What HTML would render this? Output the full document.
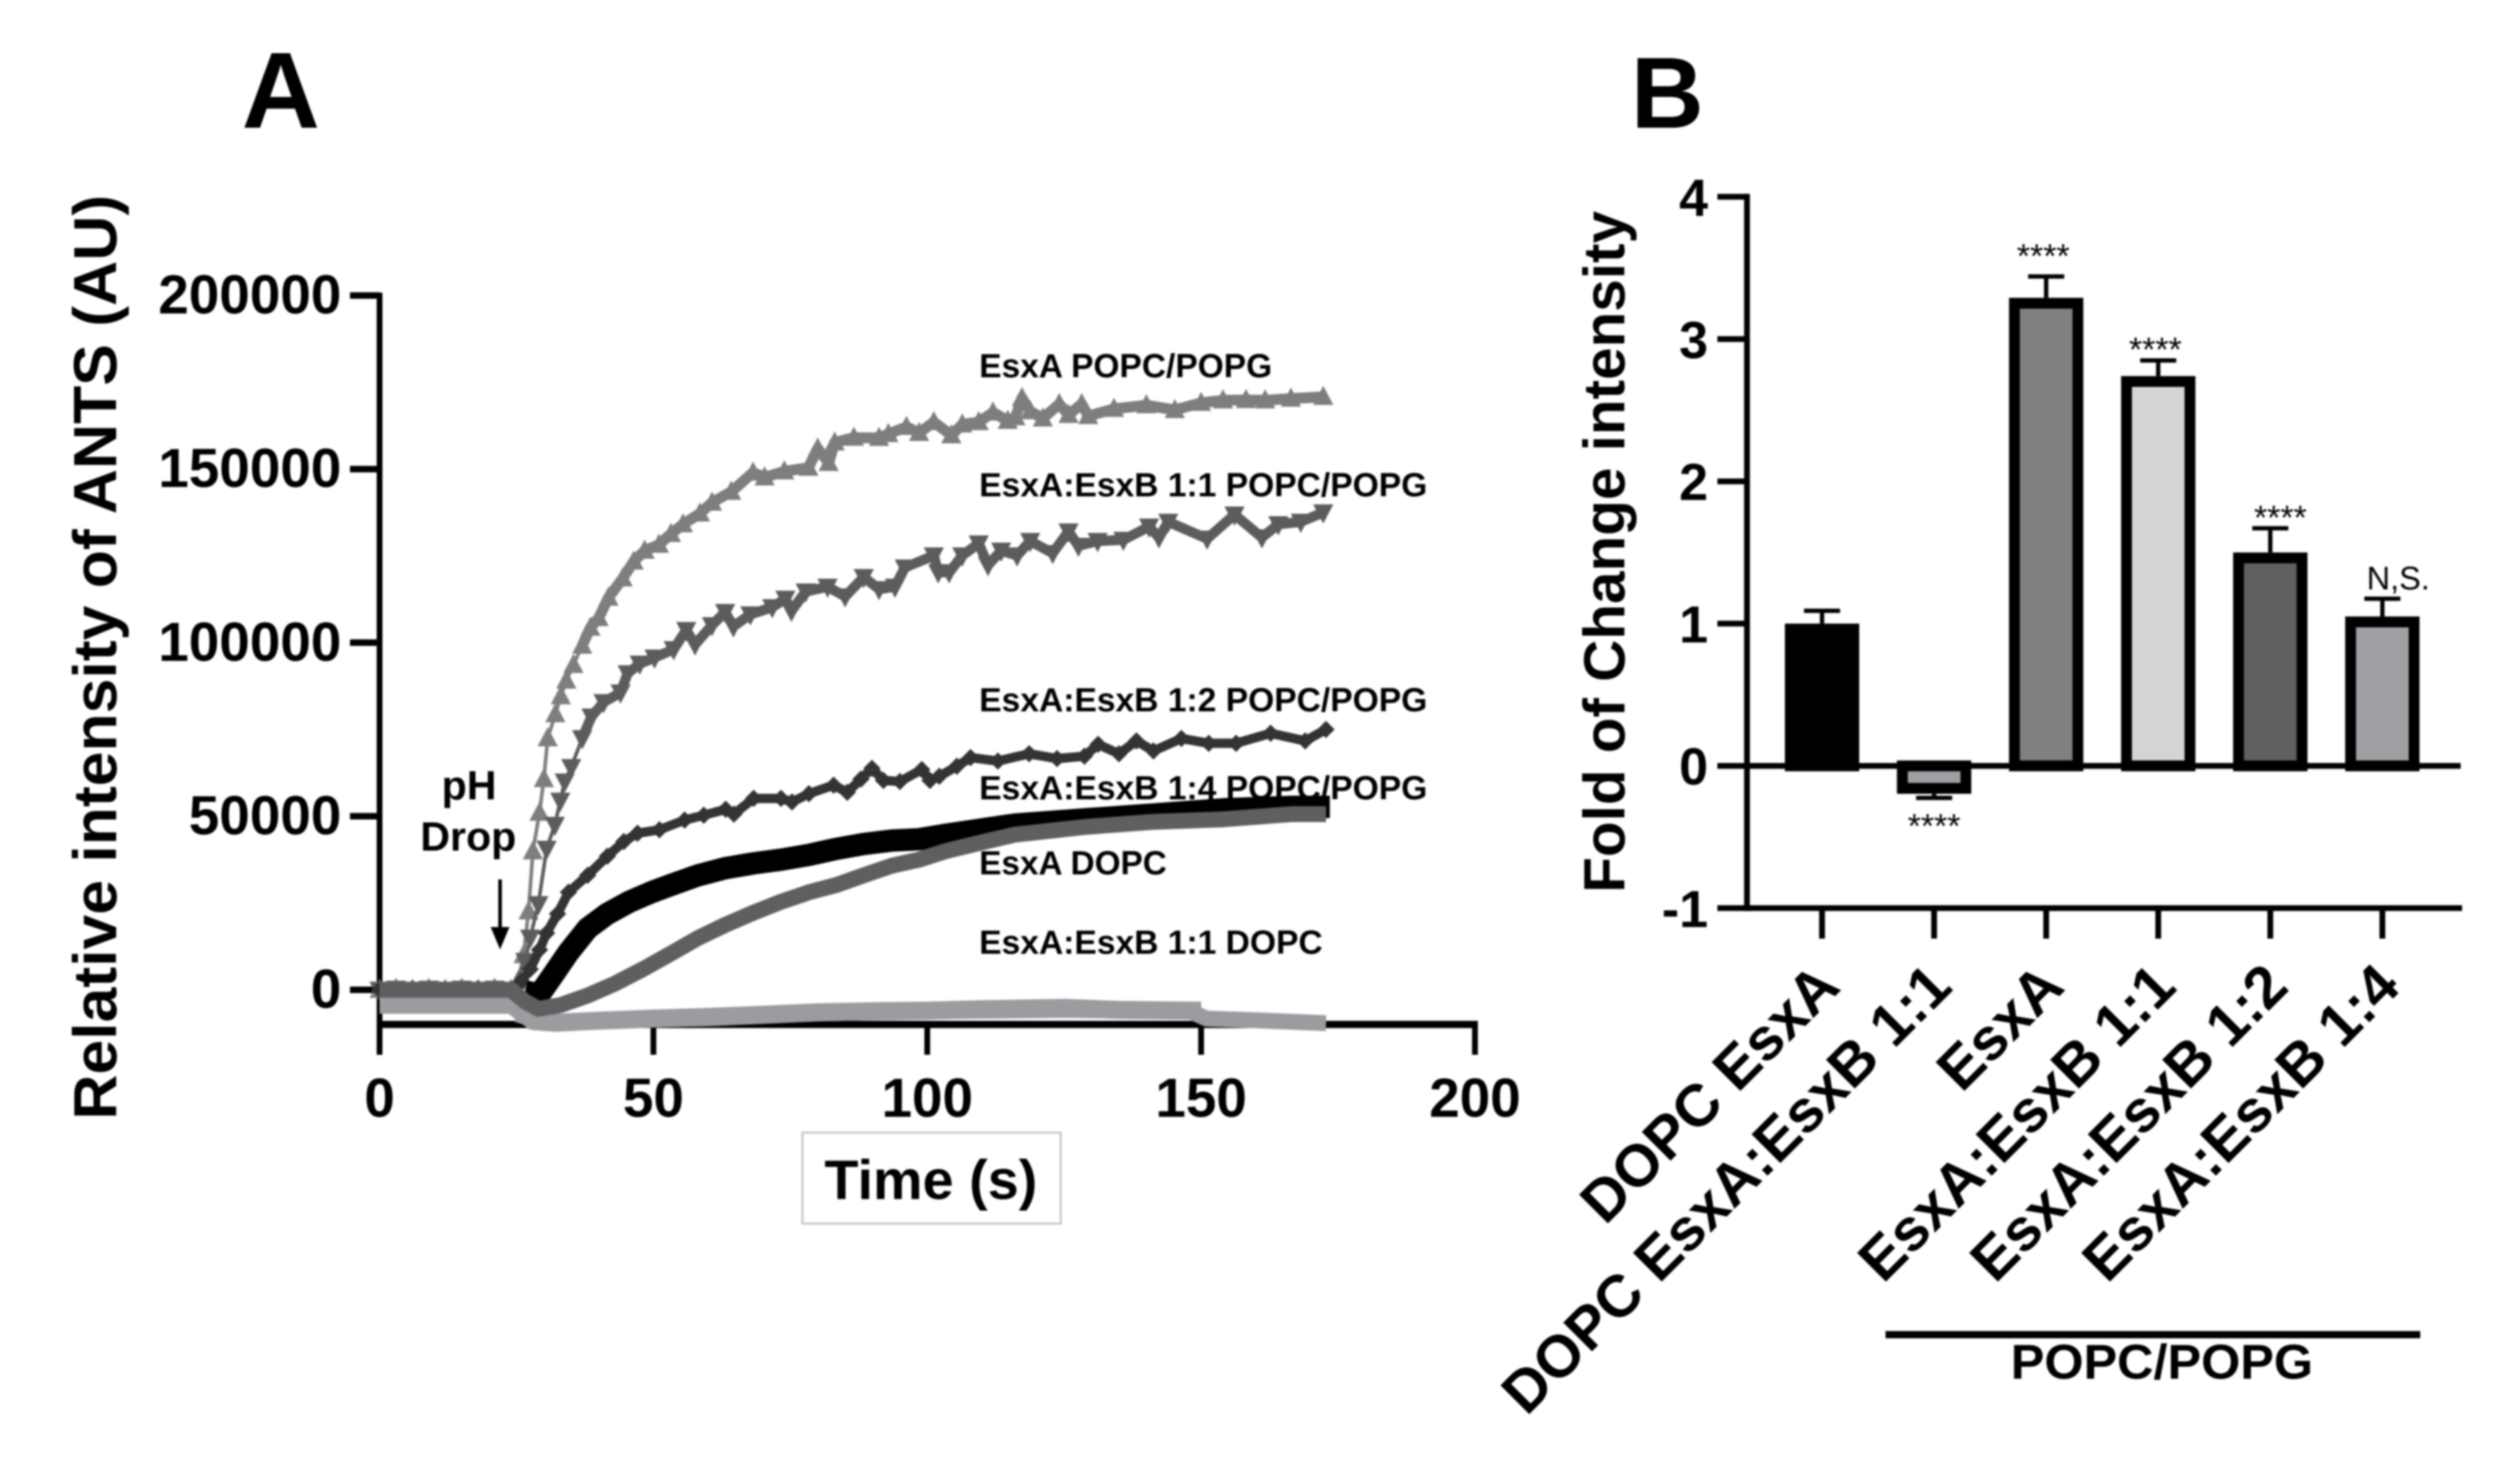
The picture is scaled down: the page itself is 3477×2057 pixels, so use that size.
<!DOCTYPE html>
<html lang="en">
<head>
<meta charset="utf-8">
<title>ANTS release chart panels A and B</title>
<style>
html,body{margin:0;padding:0;background:#fff;width:3477px;height:2057px;overflow:hidden}
svg{display:block;filter:blur(1.2px)}
text{font-family:"Liberation Sans",sans-serif;fill:#000}
.b{font-weight:bold}
</style>
</head>
<body>
<svg id="fig" xmlns="http://www.w3.org/2000/svg" width="3477" height="2057" viewBox="0 0 3477 2057">
  <rect x="0" y="0" width="3477" height="2057" fill="#fff"/>
  <text class="b" x="335" y="177" font-size="150">A</text>
  <text class="b" x="2260" y="177" font-size="140">B</text>

  <text class="b" font-size="84" text-anchor="middle" textLength="1282" lengthAdjust="spacingAndGlyphs" transform="translate(161,911) rotate(-90)">Relative intensity of ANTS (AU)</text>
  <rect x="1112" y="1570" width="358" height="126" fill="#fff" stroke="#c8c8c8" stroke-width="3"/>
  <text class="b" x="1290" y="1662" font-size="77" text-anchor="middle" textLength="295" lengthAdjust="spacingAndGlyphs">Time (s)</text>

  <g id="a-axes"></g>
  <g id="a-series"></g>

  <g>
    <text class="b" x="650" y="1108" font-size="57" text-anchor="middle">pH</text>
    <text class="b" x="649" y="1179" font-size="57" text-anchor="middle">Drop</text>
    <line x1="693" y1="1219" x2="693" y2="1295" stroke="#000" stroke-width="5"/>
    <polygon points="680,1285 706,1285 693,1316" fill="#000"/>
  </g>

  <g class="b" font-size="46" font-weight="bold">
    <text x="1357" y="523" textLength="406" lengthAdjust="spacingAndGlyphs">EsxA POPC/POPG</text>
    <text x="1357" y="688" textLength="621" lengthAdjust="spacingAndGlyphs">EsxA:EsxB 1:1 POPC/POPG</text>
    <text x="1357" y="986" textLength="621" lengthAdjust="spacingAndGlyphs">EsxA:EsxB 1:2 POPC/POPG</text>
    <text x="1357" y="1108" textLength="621" lengthAdjust="spacingAndGlyphs">EsxA:EsxB 1:4 POPC/POPG</text>
    <text x="1357" y="1212" textLength="260" lengthAdjust="spacingAndGlyphs">EsxA DOPC</text>
    <text x="1357" y="1322" textLength="476" lengthAdjust="spacingAndGlyphs">EsxA:EsxB 1:1 DOPC</text>
  </g>

  <text class="b" font-size="81" text-anchor="middle" textLength="945" lengthAdjust="spacingAndGlyphs" transform="translate(2251,765) rotate(-90)">Fold of Change intensity</text>
  <g id="b-bars"></g>
  <g id="b-axes"></g>

  <line x1="2613" y1="1850" x2="3354" y2="1850" stroke="#000" stroke-width="10"/>
  <text class="b" x="2996" y="1911" font-size="68" text-anchor="middle" textLength="419" lengthAdjust="spacingAndGlyphs">POPC/POPG</text>
</svg>

<script>
var aXTicks = [0, 50, 100, 150, 200];
var aYTicks = [0, 50000, 100000, 150000, 200000];

var esxaPopcTime = [0,3,6,9,12,15,18,21,24,25.3,26.3,27.2,28,29.2,30,30.7,32.1,33.1,34.1,35.4,37,38.5,40,41.8,44.4,46.4,48.4,51,53.2,55.4,58.5,60.7,64.2,68.2,70.3,73.9,78.3,80,82,83.1,86.6,91.2,92.9,96.2,98.5,101.2,104.4,106.4,109.4,112,114.7,116.1,117.3,118.8,121.1,124.1,125.8,128.2,129.4,134.1,140,145.2,150,154,158.2,161.7,166.4,172.3];
var esxaPopcValues = [0,300,0,300,0,300,0,300,0,2400,10000,22580,39900,51000,60700,72460,79390,84580,89080,93590,99130,104320,107090,112980,118520,123370,126490,128220,131340,134110,137220,140350,143460,149000,147620,149350,150390,155930,151770,157660,159050,159000,160090,162160,160430,163550,159740,162860,163550,166320,163900,164930,170480,166670,164590,168750,165630,168750,165280,167360,168400,167010,169090,169800,169900,169800,170300,170800];

var ratio11PopcTime = [0,3,6,9,12,15,18,21,24,26.6,27.5,29,30.5,32,33,33.8,35,37,38.7,40.9,44,45.3,47.5,50.2,53.7,56,57.6,60.7,63.1,64.6,67.7,71.7,74.1,75.2,77.8,81.8,85,88.4,91.2,94.1,95.9,101.2,102,104,106.4,109.4,111.1,113.5,116.4,118.8,122.9,125.8,127.6,131.1,135.8,140.5,142.3,144,151.1,156.1,161.1,164.1,168.2,172.3];
var ratio11PopcValues = [0,300,0,300,0,300,0,300,0,8300,15000,24660,40600,47500,54450,60000,64150,72460,78690,82850,85620,91160,93930,95670,98090,103630,99480,105020,108830,104670,108130,110210,112640,109170,114720,116100,113330,118870,115410,116100,121640,125110,120260,120260,125110,128570,122340,126490,125110,129260,125800,132030,127880,129260,129610,133420,130300,134800,129950,136880,130300,134110,134800,137500];

var ratio12PopcTime = [0,6,12,18,24,25.9,27.5,29.2,30.5,32.5,34.5,38,41.6,44.6,47.1,51.1,55.7,59.2,63.2,64.7,68.3,73.3,75.3,78.4,82.9,85.4,87.9,89.9,92,95,99,100.5,102.2,105.4,107.9,112.9,118.6,123.7,128.7,131.2,135,138.2,141.3,146.4,151.4,156.4,162.7,169,172.8];
var ratio12PopcValues = [0,300,0,300,0,2400,5960,11500,16350,21900,28100,33000,38500,42700,45100,46100,48900,50290,52000,50600,55140,55140,54100,56500,58950,56900,60700,63800,60330,60000,63450,60330,61500,64400,66900,65900,68000,66600,67300,70700,68000,71700,68800,72400,71000,71000,73900,71700,75000];

var esxaDopcTime = [26.6,29.2,31.5,34.5,38,41.6,45.6,49.6,53.2,58.2,63.2,68.3,73.3,78.4,83.4,88.4,93.5,98.5,103.5,116,128.7,141.3,154,166.5,173.5];
var esxaDopcValues = [-500,-1300,3880,10800,17700,21900,25350,28100,30200,33000,35050,36440,37480,38860,40600,42000,43000,43370,44700,47600,49100,50500,52000,52700,52700];

var ratio14PopcTime = [0,24,26.6,29,33,38,43,48.1,53.2,58.2,63.2,68.3,73.3,78.4,83.4,88.4,93.5,98.5,103.5,110,116,128.7,141.3,154,166.5,172.8];
var ratio14PopcValues = [0,0,-3400,-5470,-4430,-1650,1800,5960,10460,14970,18770,22240,25350,28100,30200,33000,35750,37480,40000,42500,44700,46900,48400,49100,50600,50600];

var ratio11DopcLongTime = [25,30,40,60,80,100,125,148,151,160,172.8];
var ratio11DopcLongValues = [-7000,-9500,-8800,-8200,-6800,-6200,-5800,-6200,-8300,-8800,-9600];

var ratio11DopcShortTime = [0,12,24,26,28,32,40,50,60,70,80,90,100,110,125,135,150];
var ratio11DopcShortValues = [-4300,-4300,-4300,-6500,-9000,-9500,-8900,-8300,-7800,-7200,-6500,-6200,-6000,-5600,-5200,-5800,-6000];

var bCategories = ["DOPC EsxA","DOPC EsxA:EsxB 1:1","EsxA","EsxA:EsxB 1:1","EsxA:EsxB 1:2","EsxA:EsxB 1:4"];
var bValues = [1.0,-0.196,3.29,2.74,1.5,1.05];
var bErrorTops = [1.09,-0.225,3.44,2.85,1.67,1.175];
var bFills = ["#000000","#a0a0a4","#808080","#d4d4d4","#606060","#a0a0a4"];
var bSignificance = ["","****","****","****","****","N,S."];
var bYTicks = [-1,0,1,2,3,4];

var NS = "http://www.w3.org/2000/svg";
function mk(tag, parent, attrs, txt){
  var e = document.createElementNS(NS, tag);
  for (var k in attrs) e.setAttribute(k, attrs[k]);
  if (txt !== undefined) e.textContent = txt;
  parent.appendChild(e);
  return e;
}

/* Panel A scales */
function xA(t){ return 526 + 7.59 * t; }
function yA(v){ return 1372 - 0.004812 * v; }

var aAxes = document.getElementById("a-axes");
var aSeries = document.getElementById("a-series");

var yLineA = mk("line", aAxes, {x1:xA(0), x2:xA(0), y1:yA(200000)-4, y2:1424, stroke:"#000", "stroke-width":8});


var xLineA = mk("line", aAxes, {x1:xA(0)-3, x2:xA(200)+4, y1:1420, y2:1420, stroke:"#000", "stroke-width":10});



aXTicks.forEach(function(t){
  var tk = mk("line", aAxes, {x1:xA(t), x2:xA(t), y1:1420, y2:1462, stroke:"#000", "stroke-width":8});
  
  
  var lb = mk("text", aAxes, {x:xA(t), y:1548, "font-size":76, "font-weight":"bold", "text-anchor":"middle"}, String(t));
  
  
});
aYTicks.forEach(function(v){
  var tk = mk("line", aAxes, {x1:485, x2:xA(0), y1:yA(v), y2:yA(v), stroke:"#000", "stroke-width":9});
  
  
  var lb = mk("text", aAxes, {x:473, y:yA(v)+25, "font-size":76, "font-weight":"bold", "text-anchor":"end"}, String(v));
  
  
});

function pathOf(ts, vs, from, to){
  var d = "";
  for (var i = from; i <= to; i++) d += (d ? "L" : "M") + xA(ts[i]).toFixed(1) + " " + yA(vs[i]).toFixed(1);
  return d;
}
function markerPoints(shape, x, y, r){
  if (shape === "up") return [x-r,y+r*0.8, x+r,y+r*0.8, x,y-r*1.1].join(",");
  if (shape === "down") return [x-r,y-r*0.8, x+r,y-r*0.8, x,y+r*1.1].join(",");
  return [x-r,y, x,y-r, x+r,y, x,y+r].join(",");
}
function drawMarkerSeries(name, ts, vs, color, shape, r, earlyWidth, lateWidth){
  var g = mk("g", aSeries, {});
  
  
  var split = 0;
  while (split < ts.length - 1 && ts[split] < 36) split++;
  var early = mk("path", g, {d:pathOf(ts, vs, 0, split), fill:"none", stroke:color, "stroke-width":earlyWidth, "stroke-linejoin":"round"});
  
  
  var late = mk("path", g, {d:pathOf(ts, vs, split, ts.length-1), fill:"none", stroke:color, "stroke-width":lateWidth, "stroke-linejoin":"round"});
  
  
  for (var i = 0; i < ts.length; i++){
    var m = mk("polygon", g, {points:markerPoints(shape, xA(ts[i]), yA(vs[i]), r), fill:color});
    
    
  }
}
function drawBandSeries(name, ts, vs, color, width){
  var p = mk("path", aSeries, {d:pathOf(ts, vs, 0, ts.length-1), fill:"none", stroke:color, "stroke-width":width, "stroke-linejoin":"round"});
  
  
}

drawMarkerSeries("series-esxa-popc-popg", esxaPopcTime, esxaPopcValues, "#7e7e7e", "up", 14, 5, 15);
drawMarkerSeries("series-1-1-popc-popg", ratio11PopcTime, ratio11PopcValues, "#5c5c5e", "down", 14, 5, 14);
drawMarkerSeries("series-1-2-popc-popg", ratio12PopcTime, ratio12PopcValues, "#333333", "diamond", 12, 13, 13);
drawBandSeries("series-esxa-dopc", esxaDopcTime, esxaDopcValues, "#000000", 31);
drawBandSeries("series-1-1-dopc-long", ratio11DopcLongTime, ratio11DopcLongValues, "#9b9ba0", 22);
drawBandSeries("series-1-1-dopc-short", ratio11DopcShortTime, ratio11DopcShortValues, "#9b9ba0", 25);
drawBandSeries("series-1-4-popc-popg", ratio14PopcTime, ratio14PopcValues, "#5f5f5f", 22);

/* Panel B scales */
function xB(i){ return 2525 + 155.3 * i; }
function yB(v){ return 1061.6 - 197.2 * v; }
var bBarWidth = 103;
var bBorder = 15;

var bBars = document.getElementById("b-bars");
var bAxes = document.getElementById("b-axes");

bValues.forEach(function(v, i){
  var cx = xB(i);
  var topEdge = v >= 0 ? yB(v) + bBorder/2 : yB(0);
  var botEdge = v >= 0 ? yB(0) : yB(v) - bBorder/2;
  var errY = yB(bErrorTops[i]);
  var stem = mk("line", bBars, {x1:cx, x2:cx, y1:errY, y2:yB(v), stroke:"#000", "stroke-width":6});
  
  
  var cap = mk("line", bBars, {x1:cx-25, x2:cx+25, y1:errY, y2:errY, stroke:"#000", "stroke-width":6});
  
  
  var r = mk("rect", bBars, {x:cx-bBarWidth/2+bBorder/2, y:topEdge, width:bBarWidth-bBorder, height:botEdge-topEdge, fill:bFills[i], stroke:"#000", "stroke-width":bBorder});
  
  
  if (bSignificance[i]){
    var isNs = bSignificance[i] === "N,S.";
    var ty;
    if (v < 0) ty = errY + 55;
    else if (isNs) ty = errY - 13;
    else if (i === 2) ty = errY - 12;
    else ty = errY + 1;
    var tx = isNs ? cx + 22 : cx + (i === 4 ? 14 : (i === 1 ? 0 : -4));
    var s = mk("text", bBars, {x:tx, y:ty, "font-size":isNs ? 45 : 47, "text-anchor":"middle", fill:"#333"}, bSignificance[i]);
    
    
  }
});

var yLineB = mk("line", bAxes, {x1:2421, x2:2421, y1:yB(4)-4, y2:yB(-1)+4, stroke:"#000", "stroke-width":8});


var zeroLineB = mk("line", bAxes, {x1:2421, x2:3410, y1:yB(0), y2:yB(0), stroke:"#000", "stroke-width":8});


var xLineB = mk("line", bAxes, {x1:2421, x2:3412, y1:yB(-1), y2:yB(-1), stroke:"#000", "stroke-width":8});



bYTicks.forEach(function(v){
  var tk = mk("line", bAxes, {x1:2380, x2:2421, y1:yB(v), y2:yB(v), stroke:"#000", "stroke-width":8});
  
  
  var lb = mk("text", bAxes, {x:2367, y:yB(v)+26, "font-size":72, "font-weight":"bold", "text-anchor":"end"}, String(v));
  
  
});
bCategories.forEach(function(c, i){
  var tk = mk("line", bAxes, {x1:xB(i), x2:xB(i), y1:yB(-1), y2:1301, stroke:"#000", "stroke-width":8});
  
  
  var lb = mk("text", bAxes, {"font-size":82, "font-weight":"bold", "text-anchor":"end", transform:"translate(" + (xB(i)+28) + ",1371) rotate(-45)"}, c);
  
  
});
</script>
</body>
</html>
